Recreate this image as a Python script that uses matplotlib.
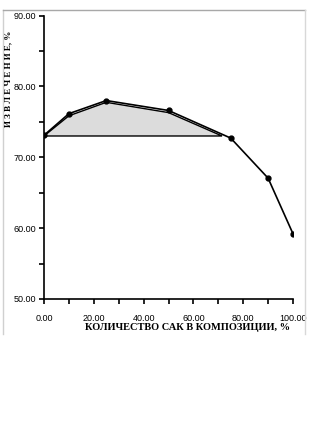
import matplotlib
matplotlib.use("Agg")
import matplotlib.pyplot as plt
from matplotlib.lines import Line2D

# data
x = [0, 10, 25, 50, 75, 90, 100]
y = [73.1, 76.15, 78.0, 76.6, 72.7, 67.05, 59.2]

# shaded region (under the curve, above the 73 baseline)
fill_x = [0, 10, 25, 50, 71.5]
fill_y = [73.0, 75.85, 77.75, 76.3, 73.0]

xticks = [0, 20, 40, 60, 80, 100]
yticks = [50, 60, 70, 80, 90]

W, H = 310, 421
fig = plt.figure(figsize=(W / 100, H / 100), dpi=100)
ax = fig.add_axes([44 / W, 1 - 299 / H, 249 / W, 283.5 / H])

ax.fill(fill_x, fill_y, facecolor="#dcdcdc", edgecolor="black", lw=1.0, zorder=1)
ax.plot(x, y, color="black", lw=1.2, marker="o", ms=3.5, zorder=3)

ax.set_xlim(0, 100)
ax.set_ylim(50, 90)
ax.set_xticks(xticks)
ax.set_xticks(range(0, 101, 10), minor=True)
ax.set_yticks(yticks)
ax.set_yticks(range(50, 91, 5), minor=True)
ax.set_xticklabels([f"{v:.2f}" for v in xticks], fontsize=6.5, family="Liberation Sans")
ax.set_yticklabels([f"{v:.2f}" for v in yticks], fontsize=6.5, family="Liberation Sans")
ax.tick_params(which="both", direction="out", length=3.5, width=1.2, color="black")
ax.tick_params(axis="x", pad=7)
ax.tick_params(axis="y", pad=2.5)
for s in ["top", "right"]:
    ax.spines[s].set_visible(False)
for s in ["left", "bottom"]:
    ax.spines[s].set_linewidth(1.2)

fig.text(188 / W, 1 - 327 / H, "КОЛИЧЕСТВО САК В КОМПОЗИЦИИ, %", ha="center", va="center",
         fontsize=7.5, fontweight="bold", family="Liberation Serif")
fig.text(8 / W, 1 - 79 / H, "И З В Л Е Ч Е Н И Е, %", ha="center", va="center", rotation=90,
         fontsize=6.5, fontweight="bold", family="Liberation Serif")

# light frame around the chart area
fig.add_artist(Line2D([3 / W, 3 / W], [1 - 334 / H, 1 - 10 / H], color="#d0d0d0", lw=1, transform=fig.transFigure))
fig.add_artist(Line2D([3 / W, 305 / W], [1 - 10 / H, 1 - 10 / H], color="#a8a8a8", lw=1, transform=fig.transFigure))
fig.add_artist(Line2D([305 / W, 305 / W], [1 - 10 / H, 1 - 334 / H], color="#d8d8d8", lw=1, transform=fig.transFigure))

fig.savefig("out.png", dpi=100)
